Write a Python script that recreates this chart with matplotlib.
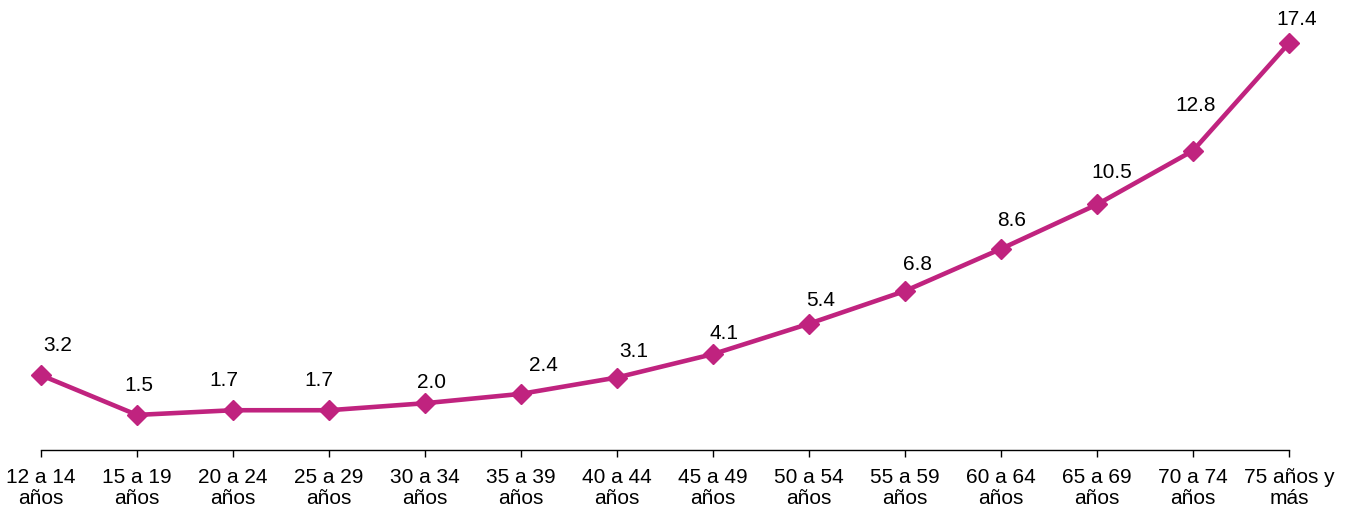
import matplotlib
matplotlib.use("Agg")
import matplotlib.pyplot as plt

categories = ["12 a 14\naños", "15 a 19\naños", "20 a 24\naños", "25 a 29\naños",
              "30 a 34\naños", "35 a 39\naños", "40 a 44\naños", "45 a 49\naños",
              "50 a 54\naños", "55 a 59\naños", "60 a 64\naños", "65 a 69\naños",
              "70 a 74\naños", "75 años y\nmás"]
values = [3.2, 1.5, 1.7, 1.7, 2.0, 2.4, 3.1, 4.1, 5.4, 6.8, 8.6, 10.5, 12.8, 17.4]

# label offsets from each point (pixels: right, up)
label_dx = [17, 2, -9, -10, 7, 22, 17, 11, 12, 13, 11, 15, 3, 8]
label_dy = [30, 29, 30, 30, 21, 28, 26, 21, 23, 26, 28, 32, 45, 24]

plt.rcParams['font.family'] = ['Liberation Sans', 'DejaVu Sans']
color = "#C0237F"
px = 72 / 100

fig = plt.figure(figsize=(13.48, 5.11), dpi=100)
ax = fig.add_axes([0.0304, 0.1194, 0.9258, 0.8236])
x = list(range(len(values)))
ax.plot(x, values, color=color, lw=3.3, marker='D', markersize=10.5, zorder=3,
        clip_on=False)
for xi, v, dx, dy in zip(x, values, label_dx, label_dy):
    ax.annotate(f"{v:.1f}", (xi, v), xytext=(dx * px, dy * px), textcoords='offset points',
                ha='center', va='center', fontsize=15, color='black')

ax.set_xlim(0, len(values) - 1)
ax.set_ylim(0, 18)
ax.set_xticks(x)
ax.set_xticklabels(categories, fontsize=15, linespacing=1.16)
ax.tick_params(axis='x', length=5, width=1, direction='out', pad=8, color='black')
ax.set_yticks([])
for s in ['top', 'right', 'left']:
    ax.spines[s].set_visible(False)
ax.spines['bottom'].set_linewidth(1)
ax.spines['bottom'].set_color('black')

fig.savefig("out.png", dpi=100)
